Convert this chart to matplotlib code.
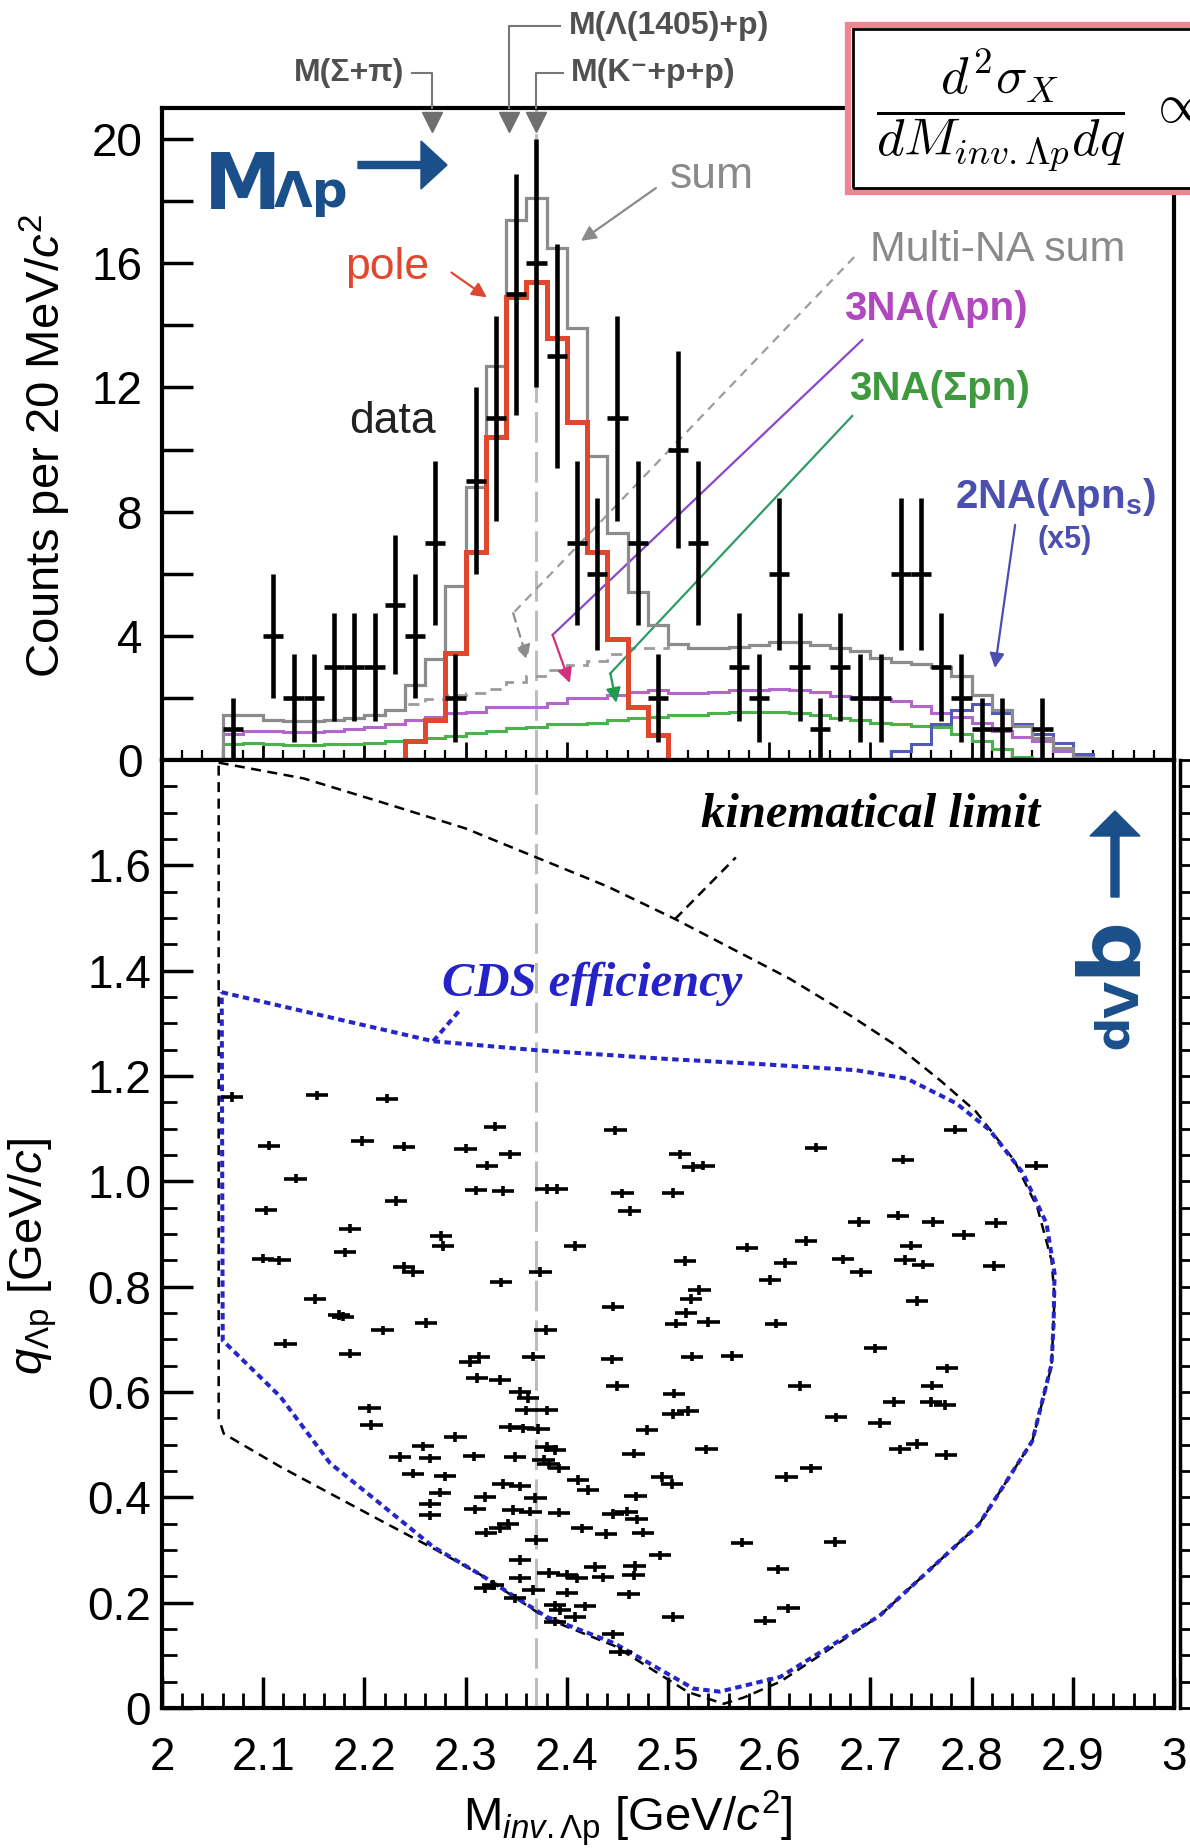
import numpy as np
import matplotlib.pyplot as plt
from matplotlib.lines import Line2D
from matplotlib.patches import Rectangle, FancyArrow
from matplotlib.ticker import MultipleLocator

plt.rcParams['font.family'] = ['Liberation Sans', 'DejaVu Sans']
plt.rcParams['mathtext.fontset'] = 'custom'
plt.rcParams['mathtext.rm'] = 'Liberation Sans'
plt.rcParams['mathtext.it'] = 'Liberation Sans:italic'
plt.rcParams['mathtext.bf'] = 'Liberation Sans:bold'

W, H = 1190, 1848


def fx(X):
    return X / W


def fy(Y):
    return 1 - Y / H


# ---- top panel: Lambda-p invariant mass spectrum ----
edges = np.round(np.arange(2.06, 2.921, 0.02), 2)   # 20 MeV bins

sum_fit = [1.45, 1.45, 1.3, 1.25, 1.25, 1.3, 1.35, 1.45, 1.6,
           2.4, 3.25, 5.6, 8.8, 12.7, 17.4, 18.1, 16.5, 13.9, 9.8,
           7.3, 5.4, 4.35, 3.75, 3.6, 3.6, 3.65, 3.7, 3.8, 3.8,
           3.7, 3.6, 3.5, 3.3, 3.15, 3.1, 3.0, 2.7, 2.1, 1.6,
           1.1, 0.7, 0.4, 0.1]
pole = [0, 0, 0, 0, 0, 0, 0, 0, 0,
        0.6, 1.3, 3.45, 6.7, 10.4, 14.9, 15.4, 13.6, 10.9, 6.7,
        3.9, 1.7, 0.8, 0, 0, 0, 0, 0, 0, 0,
        0, 0, 0, 0, 0, 0, 0, 0, 0, 0,
        0, 0, 0, 0]
multi_na = [1.45, 1.45, 1.3, 1.25, 1.25, 1.3, 1.35, 1.45, 1.6,
            1.8, 1.95, 2.1, 2.15, 2.3, 2.5, 2.7, 2.9, 3.05, 3.2,
            3.4, 3.6, 3.6, 3.75, 3.6, 3.6, 3.65, 3.7, 3.8, 3.8,
            3.7, 3.6, 3.5, 3.3, 3.15, 3.1, 3.0, 2.7, 2.1, 1.6,
            1.1, 0.7, 0.4, 0.1]
na3_lpn = [0.85, 0.95, 0.92, 0.9, 0.9, 0.92, 1.0, 1.05, 1.15,
           1.3, 1.4, 1.5, 1.55, 1.7, 1.72, 1.72, 1.85, 2.0, 2.0,
           2.1, 2.2, 2.25, 2.15, 2.15, 2.2, 2.25, 2.25, 2.3, 2.25,
           2.2, 2.05, 2.0, 1.95, 1.9, 1.75, 1.5, 1.4, 1.2, 0.95,
           0.75, 0.6, 0.3, 0.1]
na3_spn = [0.5, 0.55, 0.5, 0.48, 0.48, 0.5, 0.5, 0.55, 0.6,
           0.65, 0.72, 0.78, 0.86, 0.95, 1.02, 1.05, 1.15, 1.15, 1.2,
           1.28, 1.35, 1.4, 1.45, 1.45, 1.5, 1.53, 1.55, 1.55, 1.5,
           1.45, 1.35, 1.3, 1.2, 1.15, 1.1, 1.05, 0.85, 0.6, 0.35,
           0.1, 0, 0, 0]
na2_lpns = [0, 0, 0, 0, 0, 0, 0, 0, 0,
            0, 0, 0, 0, 0, 0, 0, 0, 0, 0,
            0, 0, 0, 0, 0, 0, 0, 0, 0, 0,
            0, 0, 0, 0, 0.3, 0.5, 1.15, 1.6, 1.8, 1.5,
            1.15, 0.85, 0.55, 0.2]

m_bins = [2.07, 2.11, 2.13, 2.15, 2.17, 2.19, 2.21, 2.23, 2.25, 2.27,
          2.29, 2.31, 2.33, 2.35, 2.37, 2.39, 2.41, 2.43, 2.45, 2.47,
          2.49, 2.51, 2.53, 2.57, 2.59, 2.61, 2.63, 2.65, 2.67, 2.69,
          2.71, 2.73, 2.75, 2.77, 2.79, 2.81, 2.83, 2.87]
counts = np.array([1, 4, 2, 2, 3, 3, 3, 5, 4, 7,
                   2, 9, 11, 15, 16, 13, 7, 6, 11, 7,
                   2, 10, 7, 3, 2, 6, 3, 1, 3, 2,
                   2, 6, 6, 3, 2, 1, 1, 1])

thresholds = [2.267, 2.343, 2.370]

# ---- bottom panel: events in (M, q) plane ----
ev_m = [2.069, 2.153, 2.222, 2.329, 2.106, 2.198, 2.239, 2.300, 2.344, 2.321,
        2.132, 2.310, 2.337, 2.380, 2.390, 2.103, 2.231, 2.186, 2.276, 2.278,
        2.408, 2.181, 2.100, 2.116, 2.239, 2.248, 2.374, 2.335, 2.151, 2.175,
        2.179, 2.261, 2.218, 2.379,
        2.448, 2.512, 2.525, 2.535, 2.646, 2.784, 2.732, 2.864, 2.455, 2.505,
        2.462, 2.689, 2.727, 2.762, 2.824, 2.792, 2.636, 2.578, 2.740, 2.517,
        2.616, 2.673, 2.734, 2.752, 2.822, 2.691, 2.601, 2.531, 2.523, 2.446,
        2.518, 2.508, 2.540, 2.607, 2.746,
        2.122, 2.186, 2.304, 2.313, 2.367, 2.311, 2.334, 2.354, 2.362, 2.360,
        2.380, 2.205, 2.207, 2.344, 2.357, 2.372, 2.290, 2.258, 2.380, 2.388,
        2.235, 2.265, 2.308, 2.349, 2.377, 2.382, 2.392, 2.248, 2.280, 2.411,
        2.421, 2.337, 2.354, 2.275, 2.265, 2.265, 2.319, 2.369, 2.309, 2.347,
        2.364, 2.392, 2.342, 2.334, 2.320, 2.370, 2.415, 2.354, 2.354, 2.382,
        2.400, 2.410, 2.319, 2.327, 2.367, 2.349, 2.400, 2.388, 2.418, 2.393,
        2.408, 2.388, 2.428,
        2.705, 2.445, 2.524, 2.563, 2.776, 2.450, 2.630, 2.761, 2.506, 2.723,
        2.760, 2.774, 2.505, 2.520, 2.666, 2.709, 2.479, 2.466, 2.538, 2.729,
        2.746, 2.775, 2.494, 2.504, 2.617, 2.641, 2.468, 2.446, 2.459, 2.469,
        2.439, 2.475, 2.573, 2.665, 2.492, 2.467, 2.466, 2.436, 2.461, 2.609,
        2.619, 2.596, 2.505, 2.446, 2.453]
ev_q = [1.160, 1.163, 1.157, 1.104, 1.068, 1.077, 1.066, 1.062, 1.051, 1.030,
        1.005, 0.983, 0.982, 0.985, 0.985, 0.945, 0.963, 0.910, 0.896, 0.877,
        0.877, 0.865, 0.853, 0.850, 0.837, 0.828, 0.828, 0.808, 0.777, 0.746,
        0.743, 0.731, 0.717, 0.718,
        1.097, 1.051, 1.027, 1.030, 1.064, 1.098, 1.041, 1.030, 0.977, 0.978,
        0.944, 0.923, 0.935, 0.923, 0.921, 0.898, 0.887, 0.874, 0.878, 0.849,
        0.845, 0.852, 0.851, 0.842, 0.839, 0.827, 0.813, 0.794, 0.777, 0.762,
        0.750, 0.730, 0.733, 0.730, 0.773,
        0.692, 0.673, 0.657, 0.667, 0.667, 0.627, 0.623, 0.600, 0.589, 0.565,
        0.565, 0.569, 0.537, 0.533, 0.531, 0.530, 0.515, 0.497, 0.496, 0.490,
        0.477, 0.474, 0.478, 0.477, 0.471, 0.463, 0.455, 0.445, 0.440, 0.433,
        0.414, 0.425, 0.421, 0.409, 0.388, 0.366, 0.401, 0.399, 0.377, 0.376,
        0.373, 0.371, 0.350, 0.341, 0.333, 0.319, 0.341, 0.281, 0.246, 0.256,
        0.253, 0.246, 0.227, 0.234, 0.224, 0.208, 0.219, 0.195, 0.193, 0.186,
        0.173, 0.164, 0.268,
        0.683, 0.662, 0.667, 0.668, 0.645, 0.611, 0.611, 0.612, 0.597, 0.581,
        0.581, 0.575, 0.558, 0.564, 0.552, 0.541, 0.528, 0.483, 0.491, 0.491,
        0.501, 0.480, 0.439, 0.425, 0.439, 0.455, 0.402, 0.368, 0.373, 0.358,
        0.330, 0.333, 0.314, 0.315, 0.290, 0.270, 0.252, 0.248, 0.216, 0.263,
        0.189, 0.166, 0.173, 0.140, 0.107]

kin_m = [2.056, 2.14, 2.22, 2.30, 2.37, 2.44, 2.507, 2.56, 2.62, 2.68, 2.73,
         2.77, 2.804, 2.842, 2.865, 2.879, 2.882, 2.879, 2.86, 2.807, 2.709,
         2.611, 2.575, 2.555, 2.52, 2.447, 2.38, 2.314, 2.271, 2.215, 2.117,
         2.061, 2.056, 2.056]
kin_q = [1.795, 1.765, 1.718, 1.67, 1.615, 1.56, 1.498, 1.445, 1.385, 1.315,
         1.252, 1.19, 1.133, 1.04, 0.95, 0.85, 0.78, 0.65, 0.507, 0.348, 0.175,
         0.05, 0.02, 0.008, 0.03, 0.118, 0.17, 0.254, 0.30, 0.357, 0.458,
         0.521, 0.55, 1.795]

cds_m = [2.059, 2.268, 2.37, 2.502, 2.588, 2.686, 2.736, 2.785, 2.818, 2.851,
         2.874, 2.882, 2.881, 2.879, 2.86, 2.807, 2.709, 2.611, 2.551, 2.525,
         2.447, 2.38, 2.314, 2.268, 2.215, 2.166, 2.117, 2.06, 2.059]
cds_q = [1.359, 1.266, 1.249, 1.232, 1.223, 1.211, 1.195, 1.148, 1.097, 1.015,
         0.92, 0.825, 0.73, 0.653, 0.507, 0.348, 0.175, 0.059, 0.031, 0.037,
         0.123, 0.173, 0.254, 0.306, 0.389, 0.465, 0.591, 0.698, 1.359]

x_ticks = [2.0, 2.1, 2.2, 2.3, 2.4, 2.5, 2.6, 2.7, 2.8, 2.9, 3.0]
x_labels = ['2', '2.1', '2.2', '2.3', '2.4', '2.5', '2.6', '2.7', '2.8', '2.9', '3']
q_ticks = [0, 0.2, 0.4, 0.6, 0.8, 1.0, 1.2, 1.4, 1.6]
q_labels = ['0', '0.2', '0.4', '0.6', '0.8', '1.0', '1.2', '1.4', '1.6']
c_ticks = [0, 4, 8, 12, 16, 20]

navy = '#1b4f8a'
grey_txt = '#505050'

fig = plt.figure(figsize=(W / 100, H / 100), dpi=100)
ax1 = fig.add_axes([fx(162), fy(760), (1174 - 162) / W, (760 - 108) / H])
ax2 = fig.add_axes([fx(162), fy(1708), (1174 - 162) / W, (1708 - 760) / H])

for a in (ax1, ax2):
    for s in a.spines.values():
        s.set_linewidth(3)
    a.axvline(2.37, color='#bdbdbd', ls=(0, (10, 3)), lw=2.2, zorder=1)

# top panel
ax1.stairs(multi_na, edges, color='#9c9c9c', lw=2, ls=(0, (4, 3)), zorder=2)
ax1.stairs(na3_lpn, edges, color='#b367cc', lw=2.2, zorder=2)
ax1.stairs(na3_spn, edges, color='#4cb24c', lw=2.2, zorder=2)
ax1.stairs(na2_lpns, edges, color='#5259b8', lw=2.2, zorder=2)
ax1.stairs(sum_fit, edges, color='#8c8c8c', lw=2.3, zorder=3)
ax1.stairs(pole, edges, color='#e0472f', lw=3.6, zorder=4)
ax1.errorbar(m_bins, counts, xerr=0.01, yerr=np.sqrt(counts), fmt='none',
             ecolor='k', elinewidth=3.3, capsize=0, zorder=5)
ax1.plot(thresholds, [20.55] * 3, 'v', color='#6f6f6f', ms=15, clip_on=False, zorder=6)

ax1.set_xlim(2, 3)
ax1.set_ylim(0, 21)
ax1.set_yticks(c_ticks, [str(c) for c in c_ticks])
ax1.xaxis.set_major_locator(MultipleLocator(0.1))
ax1.xaxis.set_minor_locator(MultipleLocator(0.02))
ax1.yaxis.set_minor_locator(MultipleLocator(2))
ax1.tick_params(axis='x', which='major', direction='in', length=13, width=2,
                labelbottom=False)
ax1.tick_params(axis='x', which='minor', direction='in', length=7, width=1.6)
ax1.tick_params(axis='y', which='both', direction='in', length=22, width=2.5)
ax1.tick_params(axis='y', labelsize=33, pad=14)

arr = dict(arrowstyle='-|>', shrinkA=0, shrinkB=0, mutation_scale=22)
ax1.text(2.543, 18.78, 'sum', color='#8a8a8a', fontsize=32, ha='center', va='center')
ax1.annotate('', xy=(2.414, 16.72), xytext=(2.488, 18.42),
             arrowprops=dict(arr, color='#8a8a8a', lw=1.6))
ax1.text(2.223, 15.85, 'pole', color='#e0472f', fontsize=32, ha='center', va='center')
ax1.annotate('', xy=(2.321, 14.9), xytext=(2.286, 15.7),
             arrowprops=dict(arr, color='#e0472f', lw=1.6))
ax1.text(2.228, 10.89, 'data', color='#222222', fontsize=32, ha='center', va='center')

ax1.text(2.826, 16.43, 'Multi-NA sum', color='#8a8a8a', fontsize=31, ha='center', va='center')
ax1.plot([2.684, 2.347], [16.2, 4.73], color='#9c9c9c', lw=1.6, ls=(0, (4, 3)))
ax1.annotate('', xy=(2.361, 3.22), xytext=(2.347, 4.73),
             arrowprops=dict(arr, color='#8c8c8c', lw=1.6, ls=(0, (4, 3))))

ax1.text(2.765, 14.52, '3NA(\u039bpn)', color='#b048c0', fontsize=29,
         fontweight='bold', ha='center', va='center')
ax1.plot([2.692, 2.386], [13.53, 4.03], color='#8a46c8', lw=1.6)
ax1.annotate('', xy=(2.403, 2.48), xytext=(2.386, 4.03),
             arrowprops=dict(arr, color='#d0307f', lw=1.6))

ax1.text(2.768, 11.95, '3NA(\u03a3pn)', color='#3f9a3f', fontsize=29,
         fontweight='bold', ha='center', va='center')
ax1.plot([2.682, 2.443], [11.08, 2.79], color='#2f9a68', lw=1.6)
ax1.annotate('', xy=(2.449, 1.84), xytext=(2.443, 2.79),
             arrowprops=dict(arr, color='#1f9a50', lw=1.6))

ax1.text(2.883, 8.47, '2NA(\u039bpn' + r'$_\mathbf{s}$)', color='#4a4fb0', fontsize=29,
         fontweight='bold', ha='center', va='center')
ax1.text(2.892, 7.09, '(x5)', color='#4a4fb0', fontsize=22,
         fontweight='bold', ha='center', va='center')
ax1.annotate('', xy=(2.823, 2.96), xytext=(2.843, 7.57),
             arrowprops=dict(arr, color='#4a4fb0', lw=1.6))

# bottom panel
ax2.plot(kin_m, kin_q, color='k', lw=1.8, ls=(0, (4, 2.6)), zorder=2)
ax2.plot(cds_m, cds_q, color='#2626c8', lw=2.9, ls=(0, (1.6, 1.1)), zorder=3)
ax2.plot([2.507, 2.567], [1.498, 1.615], color='k', lw=1.8, ls=(0, (4, 2.6)))
ax2.plot([2.268, 2.296], [1.266, 1.329], color='#2626c8', lw=2.9, ls=(0, (1.6, 1.1)))
ax2.errorbar(ev_m, ev_q, xerr=0.011, yerr=0.009, fmt='none', ecolor='k',
             elinewidth=2.6, capsize=0, zorder=4)
ax2.text(2.70, 1.695, 'kinematical limit', family='Liberation Serif', fontsize=35,
         fontweight='bold', style='italic', ha='center', va='center')
ax2.text(2.425, 1.375, 'CDS efficiency', family='Liberation Serif', fontsize=35,
         fontweight='bold', style='italic', color='#2323c8', ha='center', va='center')

ax2.set_xlim(2, 3)
ax2.set_ylim(0, 1.8)
ax2.set_xticks(x_ticks, x_labels)
ax2.set_yticks(q_ticks, q_labels)
ax2.xaxis.set_minor_locator(MultipleLocator(0.02))
ax2.yaxis.set_minor_locator(MultipleLocator(0.05))
ax2.tick_params(which='major', direction='in', length=22, width=2.5, labelsize=33)
ax2.tick_params(which='minor', direction='in', length=11, width=2)
ax2.tick_params(axis='x', pad=20)
ax2.tick_params(axis='y', pad=8)

# neighbouring panel strip at the right edge
ax3 = fig.add_axes([fx(1180), fy(1708), 0.05, (1708 - 760) / H])
for k in ('top', 'right', 'bottom'):
    ax3.spines[k].set_visible(False)
ax3.spines['left'].set_linewidth(2.5)
ax3.set_ylim(0, 1.8)
ax3.set_xticks([])
ax3.yaxis.set_major_locator(MultipleLocator(0.2))
ax3.yaxis.set_minor_locator(MultipleLocator(0.05))
ax3.tick_params(axis='y', which='both', direction='in', length=12, width=2, labelleft=False)

# axis titles
fig.text(fx(45), fy(446), 'Counts per 20 MeV/$c^2$', rotation=90, fontsize=34,
         ha='center', va='center')
fig.text(fx(33), fy(1256), r'$q_{\Lambda\mathrm{p}}$ [GeV/$c$]', rotation=90, fontsize=34,
         ha='center', va='center')
fig.text(fx(628), fy(1818), r'M$_{inv.\Lambda\mathrm{p}}$ [GeV/$c^2$]', fontsize=34,
         ha='center', va='center')


# threshold labels with leaders
def fig_line(xs, ys, **kw):
    fig.add_artist(Line2D([fx(x) for x in xs], [fy(y) for y in ys],
                          transform=fig.transFigure, **kw))


fig.text(fx(404), fy(73), 'M(\u03a3+\u03c0)', color=grey_txt, fontsize=23,
         fontweight='bold', ha='right', va='center')
fig_line([412, 432, 432], [73, 73, 108], color='#777777', lw=1.5)
fig.text(fx(569), fy(26), 'M(\u039b(1405)+p)', color=grey_txt, fontsize=23,
         fontweight='bold', ha='left', va='center')
fig_line([560, 509, 509], [26, 26, 108], color='#777777', lw=1.5)
fig.text(fx(571), fy(73), 'M(K\u207b+p+p)', color=grey_txt, fontsize=23,
         fontweight='bold', ha='left', va='center')
fig_line([563, 536, 536], [73, 73, 108], color='#777777', lw=1.5)

# cross-section formula box (cropped at the right edge, as in the source)
fig.add_artist(Rectangle((fx(848), fy(192)), (1205 - 848) / W, (192 - 25) / H,
                         transform=fig.transFigure, fc='white', ec='#f08592', lw=4.5))
fig.add_artist(Rectangle((fx(853), fy(188)), (1205 - 853) / W, (188 - 29) / H,
                         transform=fig.transFigure, fc='none', ec='k', lw=2))
fig.text(fx(1001), fy(110), r'$\dfrac{d^2\sigma_X}{dM_{inv.\Lambda p}dq}$',
         math_fontfamily='cm', fontsize=38, ha='center', va='center')
fig.text(fx(1148), fy(108), r'$\propto$', math_fontfamily='cm', fontsize=40,
         ha='left', va='center')

# hand-written notes
fig.text(fx(204), fy(209), 'M', color=navy, fontsize=56, fontweight='bold',
         family='DejaVu Sans', va='baseline')
fig.text(fx(274), fy(207), '\u039bp', color=navy, fontsize=36, fontweight='bold',
         family='DejaVu Sans', va='baseline')
fig.add_artist(FancyArrow(3.58, (H - 165) / 100, 0.89, 0, width=0.07, head_width=0.48,
                          head_length=0.26, length_includes_head=True,
                          transform=fig.dpi_scale_trans, color=navy))
fig.text(fx(1112), fy(955), 'q', color=navy, fontsize=62, fontweight='bold',
         family='DejaVu Sans', rotation=-90, ha='center', va='center')
fig.text(fx(1115), fy(1016), '\u039bp', color=navy, fontsize=34, fontweight='bold',
         family='DejaVu Sans', rotation=-90, ha='center', va='center')
fig.add_artist(FancyArrow(11.15, (H - 897) / 100, 0, 0.86, width=0.08, head_width=0.5,
                          head_length=0.25, length_includes_head=True,
                          transform=fig.dpi_scale_trans, color=navy))

fig.savefig('out.png', dpi=100)
